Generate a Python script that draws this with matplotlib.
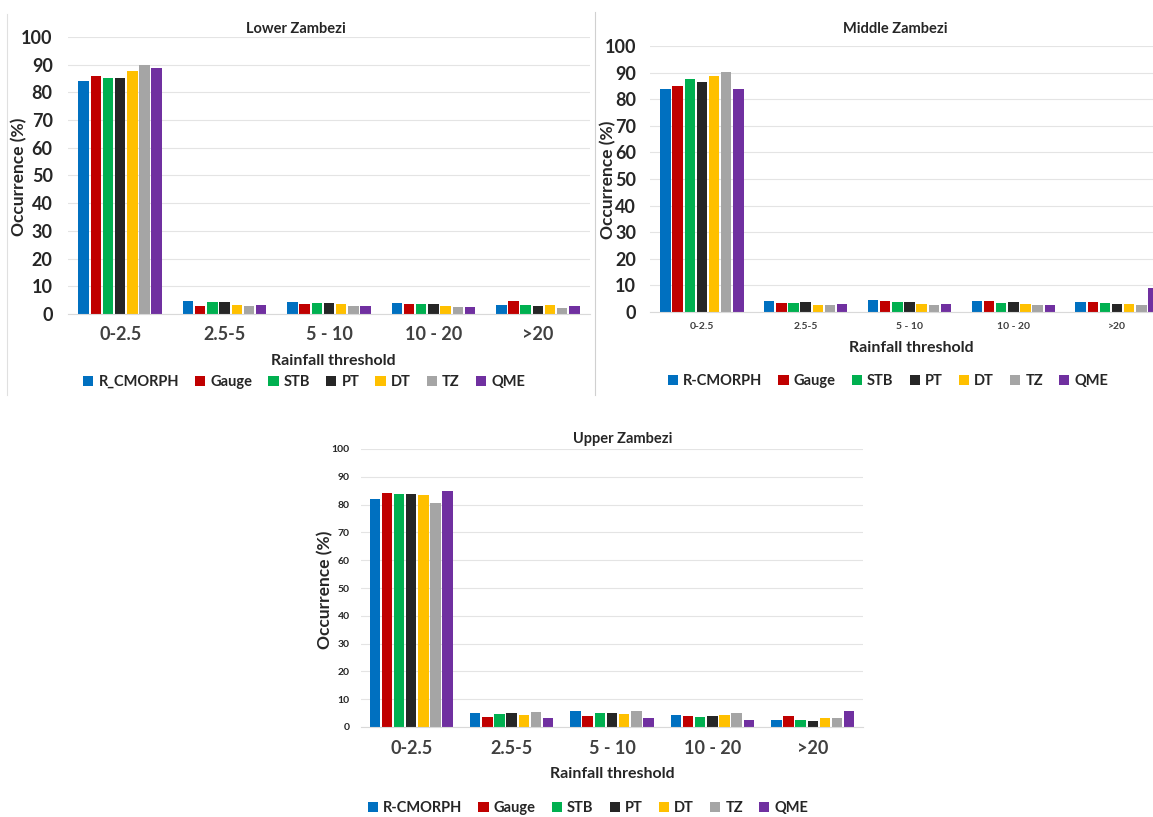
import matplotlib
matplotlib.use("Agg")
import matplotlib.pyplot as plt
import numpy as np
from matplotlib.lines import Line2D

plt.rcParams['font.family'] = ['Lato', 'DejaVu Sans']

# Rainfall threshold classes and products
thresholds = ['0-2.5', '2.5-5', '5 - 10', '10 - 20', '>20']
products = ['R-CMORPH', 'Gauge', 'STB', 'PT', 'DT', 'TZ', 'QME']
colors = ['#0070C0', '#C00000', '#00B050', '#262626', '#FFC000', '#A5A5A5', '#7030A0']

# Occurrence (%) per product, one list per threshold class
lower = {
    'R-CMORPH': [84.0, 4.7, 4.4, 4.0, 3.4],
    'Gauge':    [85.8, 3.0, 3.6, 3.6, 4.7],
    'STB':      [85.3, 4.3, 4.0, 3.6, 3.4],
    'PT':       [85.3, 4.4, 4.1, 3.6, 2.9],
    'DT':       [87.9, 3.2, 3.5, 3.0, 3.4],
    'TZ':       [89.9, 2.9, 2.9, 2.6, 2.2],
    'QME':      [88.8, 3.2, 2.9, 2.6, 2.9],
}
middle = {
    'R-CMORPH': [83.7, 4.1, 4.4, 4.1, 3.9],
    'Gauge':    [85.1, 3.4, 4.0, 4.0, 3.9],
    'STB':      [87.6, 3.4, 3.6, 3.3, 3.3],
    'PT':       [86.4, 3.6, 3.8, 3.6, 3.1],
    'DT':       [88.7, 2.8, 3.1, 3.0, 3.0],
    'TZ':       [90.3, 2.5, 2.5, 2.8, 2.5],
    'QME':      [83.7, 3.0, 3.0, 2.8, 8.9],
}
upper = {
    'R-CMORPH': [82.1, 5.2, 5.6, 4.3, 2.6],
    'Gauge':    [84.1, 3.5, 4.1, 4.1, 3.8],
    'STB':      [83.9, 4.8, 4.9, 3.6, 2.4],
    'PT':       [83.7, 4.9, 4.9, 3.8, 2.3],
    'DT':       [83.4, 4.3, 4.8, 4.2, 3.2],
    'TZ':       [80.4, 5.4, 5.8, 4.9, 3.2],
    'QME':      [84.9, 3.2, 3.2, 2.6, 5.6],
}

W, H = 1153, 817
fig = plt.figure(figsize=(W / 100, H / 100), dpi=100)


def rect(x0, x1, y_top, y_bottom):
    # pixel box -> figure fraction
    return [x0 / W, 1 - y_bottom / H, (x1 - x0) / W, (y_bottom - y_top) / H]


def panel(box, data, title, ytick_size, xtick_size, ypad, xpad, legend_first,
          title_xy, xlabel_xy, ylabel_xy, legend_xy, slot):
    ax = fig.add_axes(box)
    x = np.arange(len(thresholds))
    step = 0.117 * 104 / slot
    for i, p in enumerate(products):
        ax.bar(x + (i - 3) * step, data[p], width=step * 0.86, color=colors[i],
               label=p, zorder=3)
    ax.set_xlim(-0.5, len(thresholds) - 0.5)
    ax.set_ylim(0, 100)
    ax.set_yticks(range(0, 101, 10))
    ax.set_xticks(x)
    ax.set_xticklabels(thresholds, fontsize=xtick_size, fontweight='bold',
                       color='#404040')
    for t in ax.get_yticklabels():
        t.set_fontsize(ytick_size)
        t.set_fontweight('bold')
        t.set_color('#262626')
    ax.tick_params(axis='x', length=0, pad=xpad)
    ax.tick_params(axis='y', length=0, pad=ypad)
    ax.grid(axis='y', color='#E4E4E4', linewidth=0.8, zorder=0)
    for s in ['top', 'right', 'left']:
        ax.spines[s].set_visible(False)
    ax.spines['bottom'].set_color('#D9D9D9')
    ax.spines['bottom'].set_zorder(4)

    fig.text(title_xy[0] / W, 1 - title_xy[1] / H, title, ha='center',
             va='center', fontsize=10.5, fontweight='bold', color='#262626')
    fig.text(xlabel_xy[0] / W, 1 - xlabel_xy[1] / H, 'Rainfall threshold',
             ha='center', va='center', fontsize=11.5, fontweight='bold',
             color='#262626')
    fig.text(ylabel_xy[0] / W, 1 - ylabel_xy[1] / H, 'Occurrence (%)',
             ha='center', va='center', rotation=90, fontsize=12.5,
             fontweight='bold', color='#262626')

    handles, labels = ax.get_legend_handles_labels()
    labels[0] = legend_first
    fig.legend(handles, labels, loc='center',
               bbox_to_anchor=(legend_xy[0] / W, 1 - legend_xy[1] / H),
               ncol=7, frameon=False, handlelength=0.7, handleheight=0.7,
               handletextpad=0.35, columnspacing=1.1,
               prop={'weight': 'bold', 'size': 10.5}, labelcolor='#262626')
    return ax


# Lower Zambezi (top left)
panel(rect(68, 590, 37, 314), lower, 'Lower Zambezi', 13, 13, 11, 9, 'R_CMORPH',
      (296, 29), (333, 361), (19, 177), (304, 382), 104.4)

# Middle Zambezi (top right, runs past the right edge)
panel(rect(650, 1169, 46, 312), middle, 'Middle Zambezi', 13, 7.5, 10, 7,
      'R-CMORPH', (895, 29), (911, 348), (608, 180), (888, 381), 104)

# Upper Zambezi (bottom centre)
panel(rect(361, 863, 449, 727), upper, 'Upper Zambezi', 7.5, 13, 8, 9,
      'R-CMORPH', (623, 439), (612, 774), (325, 590), (588, 808), 100.5)

# thin frame lines between the top panels
fig.add_artist(Line2D([595 / W, 595 / W], [1 - 12 / H, 1 - 395 / H],
                      color='#D0D0D0', linewidth=0.8))
fig.add_artist(Line2D([7 / W, 7 / W], [1 - 14 / H, 1 - 395 / H],
                      color='#E0E0E0', linewidth=0.8))

fig.savefig('out.png', dpi=100)
